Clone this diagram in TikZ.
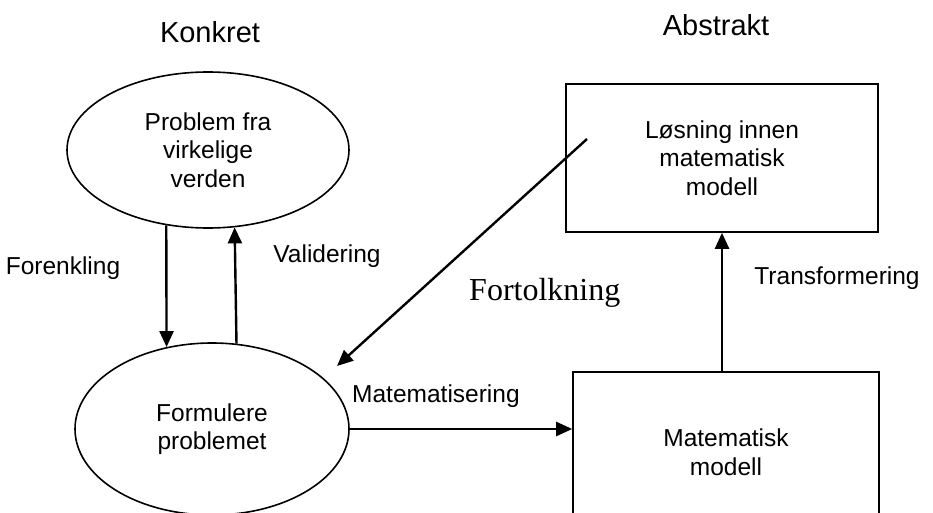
\documentclass[tikz,border=0pt]{standalone}
\usepackage{fontspec}
\setmainfont{Liberation Sans}
\newfontfamily\timesfont{Liberation Serif}
\usetikzlibrary{arrows.meta,shapes.geometric}
\begin{document}
\begin{tikzpicture}[x=1pt,y=-1pt,
  txt/.style={font=\fontsize{24.5}{28.5}\selectfont},
  ell/.style={ellipse, draw, line width=1.6pt, inner sep=0pt, align=center, txt},
  boxnode/.style={rectangle, draw, line width=1.6pt, inner sep=0pt, align=center, txt},
  arr/.style={line width=2.4pt, -{Triangle[length=16pt,width=14pt]}},
  lbl/.style={inner sep=0pt, txt},
  hdr/.style={inner sep=0pt, font=\fontsize{29}{34}\selectfont}]
\useasboundingbox (0,0) rectangle (933,513);
\clip (0,0) rectangle (933,513);

\node[hdr] (konkret) at (210,32) {Konkret};
\node[hdr] (abstrakt) at (716,25) {Abstrakt};

\node[ell, minimum width=282pt, minimum height=156pt] (ell1) at (208,150)
  {Problem fra\\virkelige\\verden};
\node[ell, minimum width=274pt, minimum height=172pt] (ell2) at (212,429)
  {Formulere\\problemet};

\node[boxnode, minimum width=312pt, minimum height=148pt] (box1) at (722,158)
  {Løsning innen\\matematisk\\modell};
\node[boxnode, minimum width=306pt, minimum height=160pt] (box2) at (726,452)
  {Matematisk\\modell};

\draw[arr] (ell1.241.2) -- (ell2.119.3);
\draw[arr] (ell2.74.7) -- (ell1.289.4);
\draw[arr] (ell2.east) -- (box2.west |- ell2.east);
\draw[arr] (box2.north -| box1.south) -- (box1.south);

\coordinate (ftail) at (587,139);
\coordinate (fhead) at (337,366);
\draw[arr] (ftail) -- (fhead);

\node[lbl] (forenkling) at (63,268) {Forenkling};
\node[lbl] (validering) at (327,256) {Validering};
\node[lbl] (transformering) at (837,278) {Transformering};
\node[lbl, anchor=base west] (matematisering) at (352,402) {Matematisering};
\node[inner sep=0pt, anchor=base west, font=\timesfont\fontsize{32}{36}\selectfont] (fortolkning) at (469,300) {Fortolkning};
\end{tikzpicture}
\end{document}
